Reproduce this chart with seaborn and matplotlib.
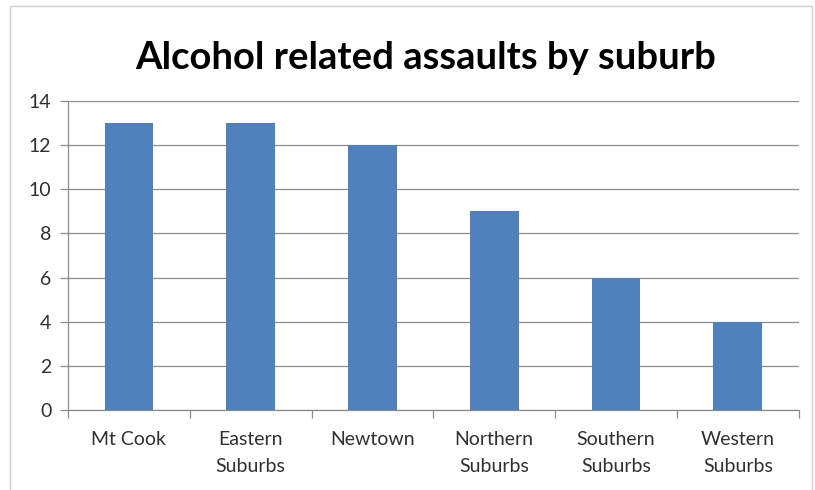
import matplotlib
matplotlib.use("Agg")
import matplotlib.pyplot as plt
import seaborn as sns
import pandas as pd
import numpy as np
from matplotlib.patches import Rectangle

categories = ["Mt Cook", "Eastern\nSuburbs", "Newtown", "Northern\nSuburbs", "Southern\nSuburbs", "Western\nSuburbs"]
values = [13, 13, 12, 9, 6, 4]
yticks = [0, 2, 4, 6, 8, 10, 12, 14]

sns.set_theme(style="white")
plt.rcParams['font.family'] = ['Lato', 'DejaVu Sans']

df = pd.DataFrame({"suburb": categories, "count": values})

fig = plt.figure(figsize=(8.15, 4.90), dpi=100)
ax = fig.add_axes([0.0834, 0.163, 0.8966, 0.631])

sns.barplot(data=df, x="suburb", y="count", color="#4F81BD", saturation=1,
            width=0.4, ax=ax, zorder=3, edgecolor="none")

ax.set_ylim(0, 14)
ax.set_xlim(-0.5, len(categories) - 0.5)
ax.set_yticks(yticks)
ax.set_yticklabels([str(t) for t in yticks], fontsize=14, color="#303030")
ax.yaxis.grid(True, color="#8c8c8c", linewidth=0.9, zorder=0)
ax.set_axisbelow(True)

# x tick marks at category boundaries, labels at centres
ax.set_xticks(np.arange(len(categories)))
ax.set_xticklabels(categories, fontsize=14, color="#303030", linespacing=1.75)
ax.tick_params(axis="x", length=0, pad=15)
ax.set_xticks(np.arange(-0.5, len(categories)), minor=True)
ax.tick_params(axis="x", which="minor", length=6, width=0.9, color="#8c8c8c", direction="out", bottom=True)
ax.tick_params(axis="y", length=6, width=0.9, color="#8c8c8c", direction="out", left=True, pad=6)

for s in ["top", "right"]:
    ax.spines[s].set_visible(False)
for s in ["left", "bottom"]:
    ax.spines[s].set_color("#8c8c8c")
    ax.spines[s].set_linewidth(0.9)

ax.set_xlabel("")
ax.set_ylabel("")

fig.text(0.522, 0.882, "Alcohol related assaults by suburb", ha="center", va="center",
         fontsize=27.5, fontweight="bold", color="black")

fig.patches.append(Rectangle((10/815, -0.01), (812-10)/815, (490-6)/490 + 0.01,
                             transform=fig.transFigure, fill=False,
                             edgecolor="#d0d0d0", linewidth=1.0))

fig.savefig("out.png", dpi=100)
